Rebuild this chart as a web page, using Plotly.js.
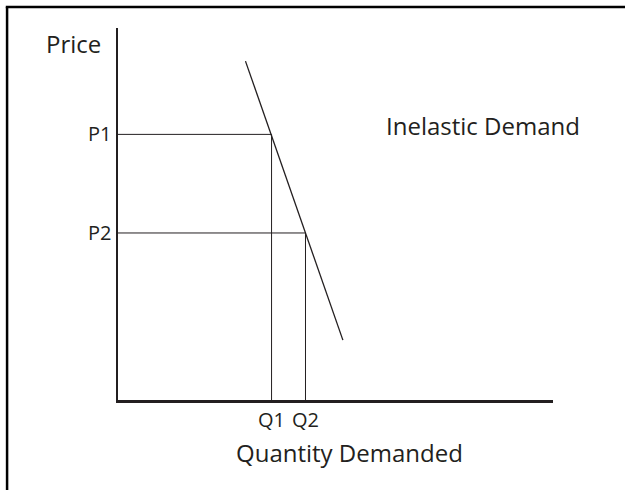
<!DOCTYPE html>
<html>
<head>
<meta charset="utf-8">
<script src="https://cdn.plot.ly/plotly-3.0.1.min.js"></script>
<style>
html,body{margin:0;padding:0;background:#fff;}
#chart{width:625px;height:490px;}
</style>
</head>
<body>
<div id="chart"></div>
<script>
// Data (abstract units)
const demandQ = [2.93, 5.17];
const demandP = [9.11, 1.61];
const priceLevels = [7.14, 4.49];
const quantityLevels = [3.53, 4.31];
const priceLabels = ["P1", "P2"];
const quantityLabels = ["Q1", "Q2"];

const ink = "#231f20";
const fontFam = "'Open Sans', 'Noto Sans', sans-serif";

const traces = [];
traces.push({
  x: demandQ, y: demandP, mode: "lines", type: "scatter",
  line: {color: ink, width: 1.3}, hoverinfo: "skip", showlegend: false
});
for (let i = 0; i < priceLevels.length; i++) {
  traces.push({
    x: [0, quantityLevels[i], quantityLevels[i]],
    y: [priceLevels[i], priceLevels[i], 0],
    mode: "lines", type: "scatter",
    line: {color: ink, width: 1}, hoverinfo: "skip", showlegend: false
  });
}

const layout = {
  width: 625, height: 490,
  margin: {l: 118, r: 72, t: 28, b: 90, pad: 0},
  paper_bgcolor: "#fff", plot_bgcolor: "#fff",
  font: {family: fontFam, color: ink},
  showlegend: false,
  xaxis: {
    range: [0, 10], showgrid: false, zeroline: false,
    showline: true, linecolor: ink, linewidth: 2.5,
    tickvals: quantityLevels, ticktext: quantityLabels,
    ticks: "", tickfont: {size: 20, color: ink, family: fontFam},
    fixedrange: true
  },
  yaxis: {
    range: [0, 10], showgrid: false, zeroline: false,
    showline: true, linecolor: ink, linewidth: 2.5,
    tickvals: priceLevels, ticktext: priceLabels,
    ticks: "", tickfont: {size: 20, color: ink, family: fontFam},
    fixedrange: true
  },
  annotations: [
    {text: "Price", xref: "paper", yref: "paper", x: -0.1025, y: 0.957,
     xanchor: "center", yanchor: "middle", showarrow: false,
     font: {size: 24, color: ink, family: fontFam}},
    {text: "Inelastic Demand", xref: "paper", yref: "paper", x: 0.839, y: 0.7366,
     xanchor: "center", yanchor: "middle", showarrow: false,
     font: {size: 24, color: ink, family: fontFam}},
    {text: "Quantity Demanded", xref: "paper", yref: "paper", x: 0.533, y: -0.1398,
     xanchor: "center", yanchor: "middle", showarrow: false,
     font: {size: 24, color: ink, family: fontFam}}
  ],
  shapes: [
    {type: "line", xref: "paper", yref: "paper", x0: -0.255, x1: -0.255, y0: 1.0565, y1: -0.25,
     line: {color: "#000", width: 2.5}},
    {type: "line", xref: "paper", yref: "paper", x0: -0.258, x1: 1.17, y0: 1.0565, y1: 1.0565,
     line: {color: "#000", width: 2.5}}
  ]
};

Plotly.newPlot("chart", traces, layout, {staticPlot: true, displayModeBar: false});
</script>
</body>
</html>
